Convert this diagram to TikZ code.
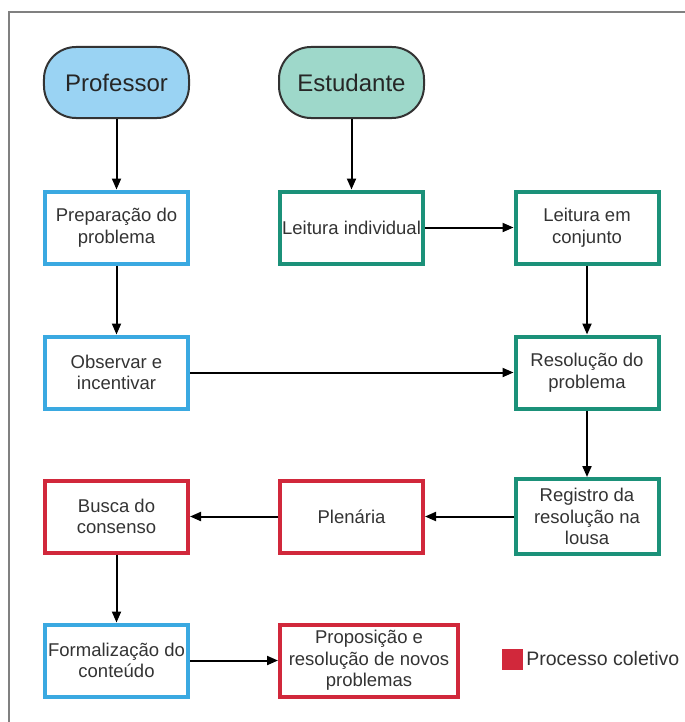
\documentclass[tikz,border=0pt]{standalone}
\usepackage{fontspec}
\setmainfont{Liberation Sans}
\usetikzlibrary{arrows.meta}
\definecolor{profblue}{HTML}{3AA9E1}
\definecolor{proffill}{HTML}{9AD3F3}
\definecolor{estgreen}{HTML}{1B9179}
\definecolor{estfill}{HTML}{9ED8CA}
\definecolor{colred}{HTML}{D1283B}
\definecolor{txt}{HTML}{333333}

\begin{document}
\begin{tikzpicture}[x=1bp,y=-1bp,
    term/.style={draw=black!80, line width=2bp, rounded corners=32bp,
      minimum width=145bp, minimum height=71bp, text=black!85,
      font=\fontsize{24bp}{28bp}\selectfont},
    box/.style={line width=4bp, minimum width=143bp, minimum height=72bp,
      align=center, text=txt, inner sep=2bp,
      font=\fontsize{18.5bp}{21.5bp}\selectfont},
    bbox/.style={box, draw=profblue},
    gbox/.style={box, draw=estgreen},
    rbox/.style={box, draw=colred},
    arr/.style={-{Triangle[length=11bp,width=9bp]}, line width=2bp}]
  \useasboundingbox (0,0) rectangle (685,722);
  \draw[gray, line width=2bp] (9,722) -- (9,12) -- (685,12);

  \node[term, fill=proffill] (prof) at (116.5,82.5) {Professor};
  \node[term, fill=estfill] (est) at (351.5,82.5) {Estudante};

  \node[bbox] (prep) at (116.5,227.5) {Preparação do\\problema};
  \node[gbox] (leit) at (351.5,227.5) {Leitura individual};
  \node[gbox] (conj) at (587,227.5) {Leitura em\\conjunto};

  \node[bbox] (obs) at (116.5,372.5) {Observar e\\incentivar};
  \node[gbox] (res) at (587,372.5) {Resolução do\\problema};

  \node[rbox] (busca) at (116.5,516.5) {Busca do\\consenso};
  \node[rbox] (plen) at (351.5,516.5) {Plenária};
  \node[gbox, minimum height=75bp] (reg) at (587,516.5) {Registro da\\resolução na\\lousa};

  \node[bbox] (form) at (116.5,660.5) {Formalização do\\conteúdo};
  \node[rbox, minimum width=178bp] (prop) at (369,660.5) {Proposição e\\resolução de novos\\problemas};

  % Legende
  \node[fill=colred, minimum size=21bp, inner sep=0pt] (leg) at (512.5,659) {};
  \node[right, inner sep=3bp, text=txt, font=\fontsize{19.5bp}{24bp}\selectfont] (legtxt) at (leg.east) {Processo coletivo};

  \draw[arr] (prof) -- (prep);
  \draw[arr] (est) -- (leit);
  \draw[arr] (leit) -- (conj);
  \draw[arr] (prep) -- (obs);
  \draw[arr] (conj) -- (res);
  \draw[arr] (obs) -- (res);
  \draw[arr] (res) -- (reg);
  \draw[arr] (reg) -- (plen);
  \draw[arr] (plen) -- (busca);
  \draw[arr] (busca) -- (form);
  \draw[arr] (form) -- (prop);
\end{tikzpicture}
\end{document}
